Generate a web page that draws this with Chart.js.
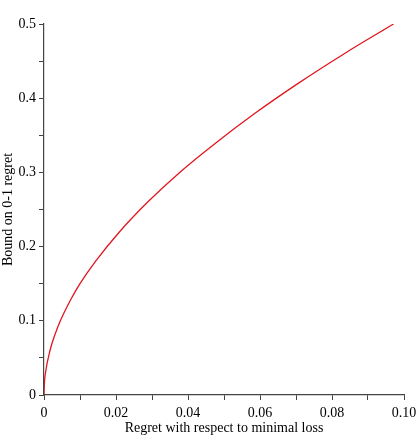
<!DOCTYPE html>
<html>
<head>
<meta charset="utf-8">
<script src="https://cdn.jsdelivr.net/npm/chart.js@4/dist/chart.umd.min.js"></script>
<style>
  html, body { margin: 0; padding: 0; background: #fff; overflow: hidden; }
  #wrap { width: 416px; height: 438px; }
</style>
</head>
<body>
<div id="wrap"><canvas id="boundChart"></canvas></div>
<script>
// values (smoothed by eye)
const regretX = [0, 0.0001, 0.00042, 0.00167, 0.00294, 0.00455, 0.0076, 0.0100, 0.0143, 0.0210,
                 0.0288, 0.0377, 0.0478, 0.0587, 0.0706, 0.0834, 0.0971];
const boundY  = [0, 0.015, 0.03, 0.06, 0.08, 0.10, 0.13, 0.15, 0.18, 0.22,
                 0.26, 0.30, 0.34, 0.38, 0.42, 0.46, 0.50];
const xTitle = 'Regret with respect to minimal loss';
const yTitle = 'Bound on 0-1 regret';

const points = regretX.map((x, i) => ({ x: x, y: boundY[i] }));

const serif = { family: '"Liberation Serif", "Times New Roman", serif', size: 14 };

const ctx = document.getElementById('boundChart').getContext('2d');
const boundChart = new Chart(ctx, {
    type: 'scatter',
    data: {
        datasets: [{
            data: points,
            showLine: true,
            borderColor: '#e0161e',
            borderWidth: 1.3,
            pointRadius: 0,
            cubicInterpolationMode: 'monotone'
        }]
    },
    options: {
        responsive: true,
        maintainAspectRatio: false,
        animation: false,
        layout: { padding: { top: 24, right: 0, left: 0, bottom: 0 } },
        plugins: { legend: { display: false }, tooltip: { enabled: false } },
        scales: {
            x: {
                type: 'linear',
                min: 0, max: 0.1,
                afterFit: s => { s.height = 43; s.paddingRight = 12; },
                border: { display: true, color: '#444', width: 1.2 },
                grid: { drawOnChartArea: false, drawTicks: true, tickLength: 5, color: '#444' },
                ticks: {
                    stepSize: 0.01, autoSkip: false, maxRotation: 0, color: '#000', font: serif, padding: 5,
                    callback: v => {
                        const k = Math.round(v * 100);
                        if (k % 2) return '';
                        return k === 0 ? '0' : (k / 100).toFixed(2);
                    }
                },
                title: { display: true, text: xTitle, color: '#000', font: serif, padding: { top: 0, bottom: 1 } }
            },
            y: {
                type: 'linear',
                min: 0, max: 0.5,
                afterFit: s => { s.width = 44; s.paddingTop = 0; },
                border: { display: true, color: '#444', width: 1.2 },
                grid: { drawOnChartArea: false, drawTicks: true, tickLength: 5, color: '#444' },
                ticks: {
                    stepSize: 0.05, autoSkip: false, color: '#000', font: serif, padding: 3,
                    callback: v => {
                        const k = Math.round(v * 100);
                        if (k % 10) return '';
                        return k === 0 ? '0' : (k / 100).toFixed(1);
                    }
                },
                title: { display: true, text: yTitle, color: '#000', font: serif, padding: { top: 0, bottom: 0 } }
            }
        }
    }
});
</script>
</body>
</html>
